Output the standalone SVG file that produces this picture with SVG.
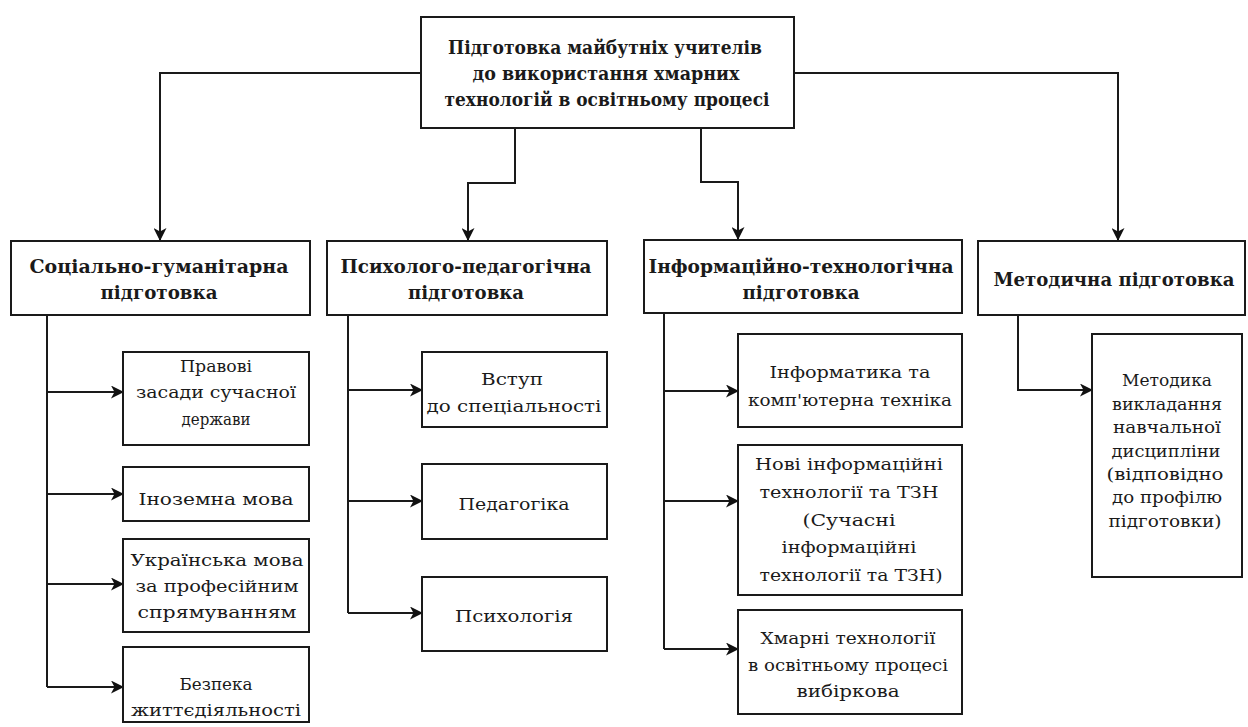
<svg xmlns="http://www.w3.org/2000/svg" width="1248" height="727" viewBox="0 0 1248 727">
  <defs>
    <marker id="arrow" viewBox="0 0 13 13" refX="12" refY="6.5" markerWidth="13" markerHeight="13" markerUnits="userSpaceOnUse" orient="auto">
      <path d="M0,0 L13,6.5 L0,13 L3.5,6.5 Z" fill="#111"/>
    </marker>
    <style>
      .box { fill: #fff; stroke: #1a1a1a; stroke-width: 2; }
      .edge { fill: none; stroke: #1a1a1a; stroke-width: 2; }
      .arr { marker-end: url(#arrow); }
      text { font-family: "DejaVu Serif", "Liberation Serif", serif; fill: #1a1a1a; text-anchor: middle; }
      .title { font-size: 19px; font-weight: bold; }
      .head { font-size: 18px; font-weight: bold; }
      .item { font-size: 17px; }
      .item-sm { font-size: 16px; }
    </style>
  </defs>
  <rect width="1248" height="727" fill="#fff"/>

  <!-- connectors -->
  <g id="connectors">
    <path class="edge arr" d="M421,73 H160 V240"/>
    <path class="edge arr" d="M794,73 H1118 V240"/>
    <path class="edge arr" d="M515,128 V183 H468 V240"/>
    <path class="edge arr" d="M701,128 V182 H738 V239"/>

    <path class="edge" d="M47,315 V687"/>
    <path class="edge arr" d="M47,392 H123"/>
    <path class="edge arr" d="M47,494 H123"/>
    <path class="edge arr" d="M47,584 H123"/>
    <path class="edge arr" d="M47,687 H123"/>

    <path class="edge" d="M348,315 V613"/>
    <path class="edge arr" d="M348,390 H422"/>
    <path class="edge arr" d="M348,501 H422"/>
    <path class="edge arr" d="M348,613 H422"/>

    <path class="edge" d="M664,313 V649"/>
    <path class="edge arr" d="M664,391 H738"/>
    <path class="edge arr" d="M664,501 H738"/>
    <path class="edge arr" d="M664,649 H738"/>

    <path class="edge arr" d="M1018,315 V390 H1092"/>
  </g>

  <!-- root -->
  <g id="root">
    <rect class="box" x="421" y="17" width="373" height="111"/>
    <text class="title" x="605" y="54" textLength="314" lengthAdjust="spacingAndGlyphs">Підготовка майбутніх учителів</text>
    <text class="title" x="606" y="80" textLength="267" lengthAdjust="spacingAndGlyphs">до використання хмарних</text>
    <text class="title" x="607" y="106" textLength="325" lengthAdjust="spacingAndGlyphs">технологій в освітньому процесі</text>
  </g>

  <!-- column headers -->
  <g id="social">
    <rect class="box" x="11" y="241" width="299" height="74"/>
    <text class="head" x="159" y="273" textLength="259" lengthAdjust="spacingAndGlyphs">Соціально-гуманітарна</text>
    <text class="head" x="159" y="299" textLength="117" lengthAdjust="spacingAndGlyphs">підготовка</text>
  </g>
  <g id="psycho">
    <rect class="box" x="327" y="241" width="280" height="74"/>
    <text class="head" x="466" y="273" textLength="251" lengthAdjust="spacingAndGlyphs">Психолого-педагогічна</text>
    <text class="head" x="466" y="299" textLength="116" lengthAdjust="spacingAndGlyphs">підготовка</text>
  </g>
  <g id="infotech">
    <rect class="box" x="644" y="240" width="318" height="73"/>
    <text class="head" x="801" y="273" textLength="305" lengthAdjust="spacingAndGlyphs">Інформаційно-технологічна</text>
    <text class="head" x="801" y="299" textLength="117" lengthAdjust="spacingAndGlyphs">підготовка</text>
  </g>
  <g id="method">
    <rect class="box" x="978" y="241" width="267" height="74"/>
    <text class="head" x="1114" y="286" textLength="241" lengthAdjust="spacingAndGlyphs">Методична підготовка</text>
  </g>

  <!-- social-humanitarian subjects -->
  <g id="law">
    <rect class="box" x="123" y="352" width="186" height="93"/>
    <text class="item" x="216" y="372" textLength="72" lengthAdjust="spacingAndGlyphs">Правові</text>
    <text class="item" x="216" y="398" textLength="160" lengthAdjust="spacingAndGlyphs">засади сучасної</text>
    <text class="item" x="216" y="425" textLength="69" lengthAdjust="spacingAndGlyphs">держави</text>
  </g>
  <g id="foreign">
    <rect class="box" x="123" y="467" width="186" height="54"/>
    <text class="item" x="216" y="505" textLength="155" lengthAdjust="spacingAndGlyphs">Іноземна мова</text>
  </g>
  <g id="ukrainian">
    <rect class="box" x="123" y="539" width="186" height="93"/>
    <text class="item" x="217" y="566" textLength="173" lengthAdjust="spacingAndGlyphs">Українська мова</text>
    <text class="item" x="217" y="592" textLength="163" lengthAdjust="spacingAndGlyphs">за професійним</text>
    <text class="item" x="217" y="618" textLength="159" lengthAdjust="spacingAndGlyphs">спрямуванням</text>
  </g>
  <g id="safety">
    <rect class="box" x="123" y="647" width="186" height="75"/>
    <text class="item" x="216" y="690" textLength="73" lengthAdjust="spacingAndGlyphs">Безпека</text>
    <text class="item" x="216" y="716" textLength="170" lengthAdjust="spacingAndGlyphs">життєдіяльності</text>
  </g>

  <!-- psycho-pedagogical subjects -->
  <g id="intro">
    <rect class="box" x="422" y="352" width="185" height="75"/>
    <text class="item" x="512" y="385" textLength="62" lengthAdjust="spacingAndGlyphs">Вступ</text>
    <text class="item" x="514" y="412" textLength="175" lengthAdjust="spacingAndGlyphs">до спеціальності</text>
  </g>
  <g id="pedagogy">
    <rect class="box" x="422" y="464" width="185" height="75"/>
    <text class="item" x="514" y="510" textLength="111" lengthAdjust="spacingAndGlyphs">Педагогіка</text>
  </g>
  <g id="psychology">
    <rect class="box" x="422" y="577" width="185" height="74"/>
    <text class="item" x="514" y="622" textLength="118" lengthAdjust="spacingAndGlyphs">Психологія</text>
  </g>

  <!-- information-technology subjects -->
  <g id="informatics">
    <rect class="box" x="738" y="334" width="224" height="93"/>
    <text class="item" x="850" y="378" textLength="161" lengthAdjust="spacingAndGlyphs">Інформатика та</text>
    <text class="item" x="850" y="406" textLength="204" lengthAdjust="spacingAndGlyphs">комп'ютерна техніка</text>
  </g>
  <g id="newtech">
    <rect class="box" x="738" y="445" width="224" height="150"/>
    <text class="item" x="849" y="470" textLength="188" lengthAdjust="spacingAndGlyphs">Нові інформаційні</text>
    <text class="item" x="849" y="498" textLength="179" lengthAdjust="spacingAndGlyphs">технології та ТЗН</text>
    <text class="item" x="849" y="526" textLength="93" lengthAdjust="spacingAndGlyphs">(Сучасні</text>
    <text class="item" x="849" y="553" textLength="135" lengthAdjust="spacingAndGlyphs">інформаційні</text>
    <text class="item" x="851" y="581" textLength="183" lengthAdjust="spacingAndGlyphs">технології та ТЗН)</text>
  </g>
  <g id="cloud">
    <rect class="box" x="738" y="610" width="224" height="104"/>
    <text class="item" x="848" y="644" textLength="175" lengthAdjust="spacingAndGlyphs">Хмарні технології</text>
    <text class="item" x="848" y="671" textLength="200" lengthAdjust="spacingAndGlyphs">в освітньому процесі</text>
    <text class="item" x="848" y="697" textLength="103" lengthAdjust="spacingAndGlyphs">вибіркова</text>
  </g>

  <!-- methodical subject -->
  <g id="teaching">
    <rect class="box" x="1092" y="334" width="150" height="243"/>
    <text class="item-sm" x="1167" y="386" textLength="90" lengthAdjust="spacingAndGlyphs">Методика</text>
    <text class="item-sm" x="1167" y="410" textLength="110" lengthAdjust="spacingAndGlyphs">викладання</text>
    <text class="item-sm" x="1167" y="433" textLength="108" lengthAdjust="spacingAndGlyphs">навчальної</text>
    <text class="item-sm" x="1166" y="457" textLength="109" lengthAdjust="spacingAndGlyphs">дисципліни</text>
    <text class="item-sm" x="1165" y="480" textLength="117" lengthAdjust="spacingAndGlyphs">(відповідно</text>
    <text class="item-sm" x="1167" y="503" textLength="110" lengthAdjust="spacingAndGlyphs">до профілю</text>
    <text class="item-sm" x="1165" y="527" textLength="113" lengthAdjust="spacingAndGlyphs">підготовки)</text>
  </g>
</svg>
